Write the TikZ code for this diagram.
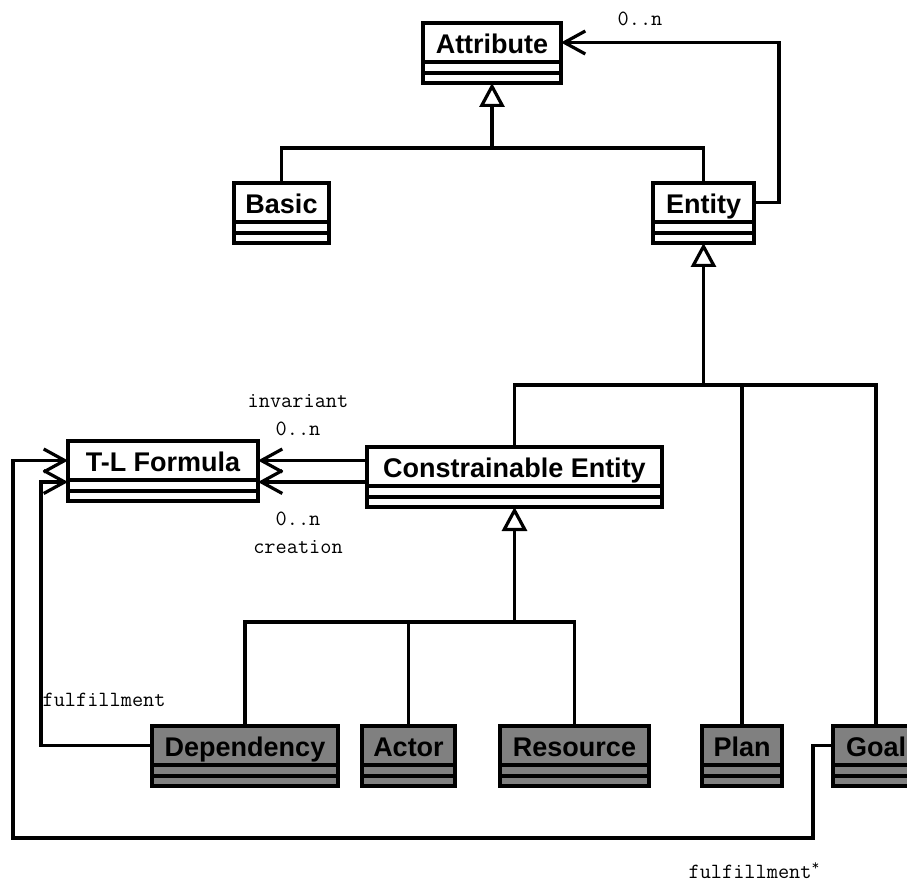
\documentclass[tikz,border=0pt]{standalone}
\usepackage{fontspec}
\setmainfont{Liberation Sans}
\usetikzlibrary{arrows.meta}
\definecolor{classgray}{RGB}{128,128,128}

\tikzset{
  classname/.style={draw, rectangle, anchor=north, outer sep=0pt, inner sep=0pt,
    minimum height=39pt, text height=22pt, text depth=0pt,
    font=\fontsize{27}{30}\selectfont\bfseries},
  compart/.style={draw, rectangle, anchor=north, outer sep=0pt, inner sep=0pt,
    minimum height=11pt},
  rolelabel/.style={font=\ttfamily\fontsize{21.7}{24}\selectfont, inner sep=0pt},
  gen/.style={-{Triangle[open, length=24pt, width=25pt]}},
  assoc/.style={-{Straight Barb[length=21pt, width=23pt]}},
}

% class box: name, centre x, top y, width, fill, title
\newcommand\umlclass[6]{%
  \node[classname, fill=#5, minimum width=#4pt] (#1) at (#2,#3) {#6};
  \node[compart, fill=#5, minimum width=#4pt] (#1-a) at (#1.south) {};
  \node[compart, fill=#5, minimum width=#4pt, minimum height=10pt] (#1-b) at (#1-a.south) {};
}

\begin{document}
\begin{tikzpicture}[x=1pt, y=-1pt, line width=3.2pt]
  \useasboundingbox (0,0) rectangle (907,882);
  \clip (0,0) rectangle (907,882);

  % classes
  \umlclass{attr}{492}{23}{138}{white}{Attribute}
  \umlclass{basic}{281.5}{183}{95}{white}{Basic}
  \umlclass{entity}{703.5}{183}{101}{white}{Entity}
  \umlclass{tl}{163}{441}{190}{white}{T-L Formula}
  \umlclass{ce}{514.5}{447}{295}{white}{Constrainable Entity}
  \umlclass{dep}{245}{726}{186}{classgray}{Dependency}
  \umlclass{actor}{408.5}{726}{93}{classgray}{Actor}
  \umlclass{res}{574.5}{726}{149}{classgray}{Resource}
  \umlclass{plan}{742}{726}{80}{classgray}{Plan}
  \umlclass{goal}{876}{726}{86}{classgray}{Goal}

  % junction points of the generalisation trees
  \coordinate (j1) at (492,148);
  \coordinate (j2) at (703.5,385);
  \coordinate (j3) at (514.5,622);
  \coordinate (ylow) at (0,482);
  \coordinate (gturn) at (813,838);
  \coordinate (gleft) at (13,838);

  % Basic, Entity -> Attribute
  \draw (basic.north) |- (entity.north |- j1) -- (entity.north);
  \draw[gen] (j1) -- (attr-b.south);

  % Constrainable Entity, Plan, Goal -> Entity
  \draw (ce.north) |- (goal.north |- j2) -- (goal.north);
  \draw (plan.north) -- (plan.north |- j2);
  \draw[gen] (j2) -- (entity-b.south);

  % Dependency, Actor, Resource -> Constrainable Entity
  \draw (dep.north) |- (res.north |- j3) -- (res.north);
  \draw (actor.north) -- (actor.north |- j3);
  \draw[gen] (j3) -- (ce-b.south);

  % associations
  \draw[assoc] (entity.east) -- ++(25,0) |- (attr.east);
  \draw[assoc] (ce.west |- tl.east) -- (tl.east);
  \draw[assoc] (ce.west |- ylow) -- (tl.east |- ylow);
  \draw[assoc] (dep.west) -- ++(-111,0) |- (tl.west |- ylow);
  \draw[assoc] (goal.west) -| (gturn) -- (gleft) |- (tl.west);

  % role labels
  \node[rolelabel] (l1) at (640,19) {0..n};
  \node[rolelabel] (l2) at (298,401) {invariant};
  \node[rolelabel] (l3) at (298,429) {0..n};
  \node[rolelabel] (l4) at (298,519) {0..n};
  \node[rolelabel] (l5) at (298,547) {creation};
  \node[rolelabel, anchor=west] (l6) at (41,700) {fulfillment};
  \node[rolelabel, anchor=base west] (l7) at (687,878) {fulfillment\textsuperscript{*}};
\end{tikzpicture}
\end{document}
